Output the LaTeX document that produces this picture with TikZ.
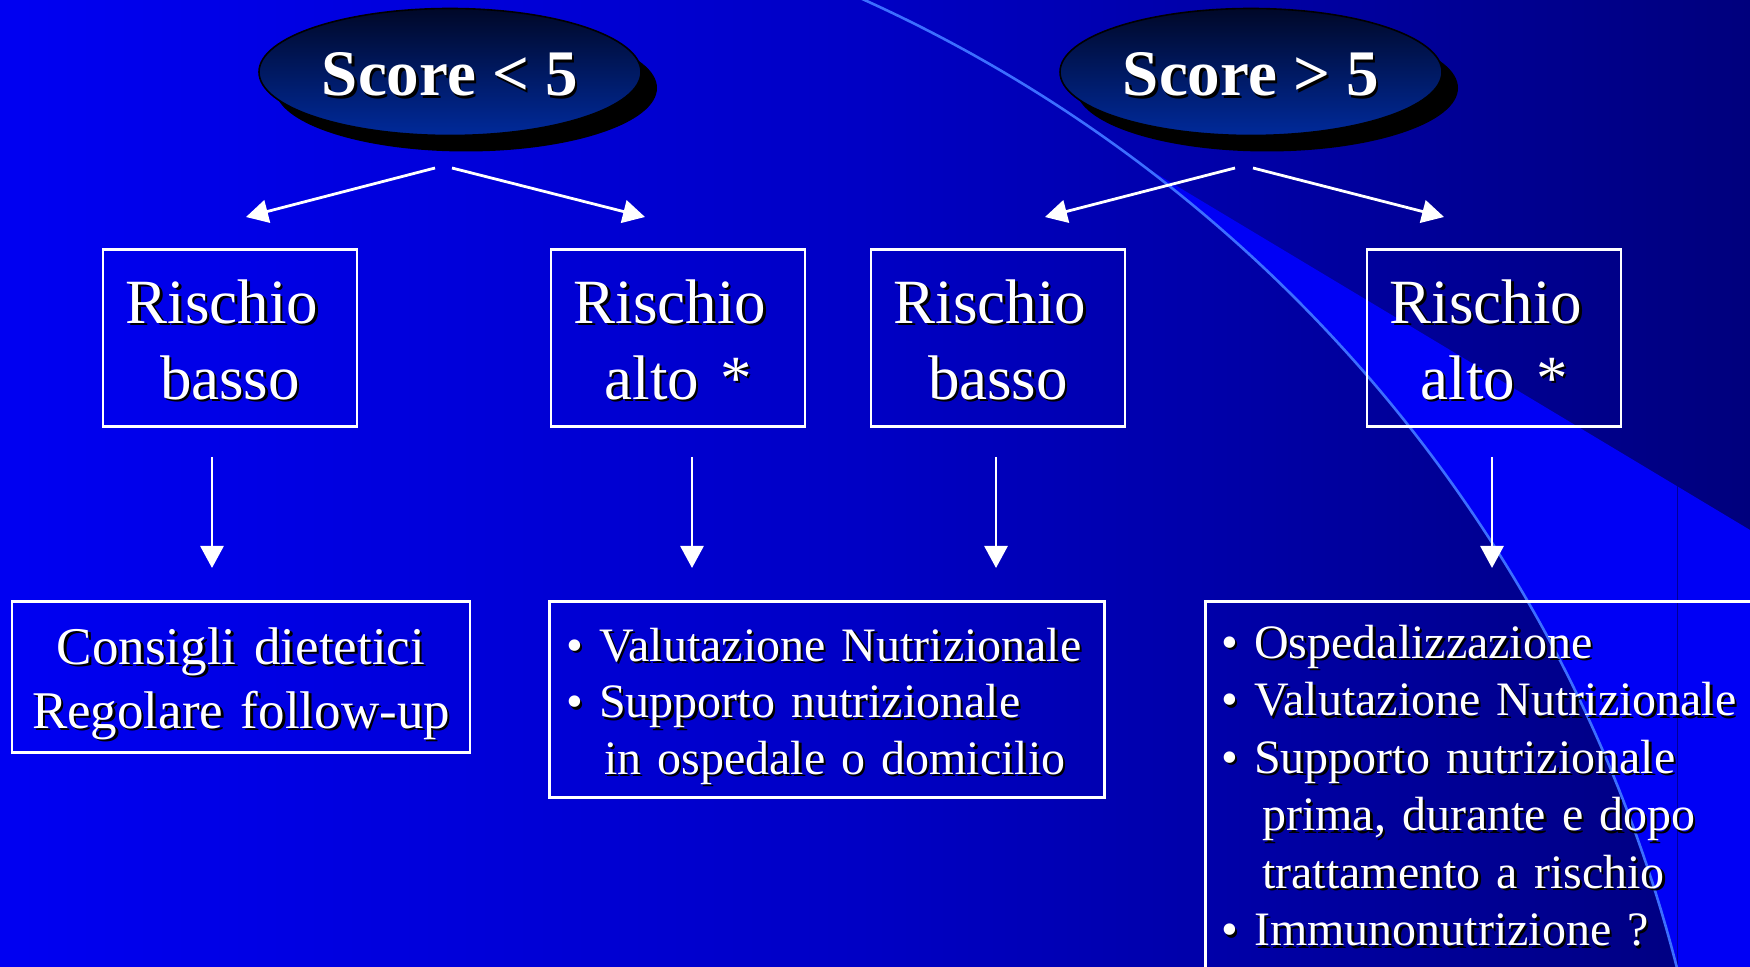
\documentclass[tikz,border=0pt]{standalone}
\usepackage{fontspec}
\setmainfont{Liberation Serif}
\usetikzlibrary{arrows.meta,shapes.geometric,shadows}

\definecolor{bgleft}{RGB}{0,0,242}
\definecolor{bgmid}{RGB}{0,0,196}
\definecolor{bgright}{RGB}{0,0,125}
\definecolor{wedge}{RGB}{0,0,245}
\definecolor{arcline}{RGB}{60,110,255}
\definecolor{seam}{RGB}{0,0,150}
\definecolor{ovaltop}{RGB}{0,8,40}
\definecolor{ovalbot}{RGB}{0,42,155}

% white text with a small black drop shadow
\newcommand\sh[1]{\mbox{\rlap{\kern1.2pt\raisebox{-1.2pt}{\color{black}#1}}#1}}
% invisible struts fixing the first baseline and the bottom margin
\newcommand\topgap[1]{\rule{0pt}{#1}}
\newcommand\botgap[1]{\rule[-#1]{0pt}{#1}}

\begin{document}
\begin{tikzpicture}[x=0.5pt,y=-0.5pt,
  box/.style={draw=white, line width=1.3pt, inner sep=0pt, text=white, anchor=north},
  rbox/.style={box, text width=127pt, align=center, font=\fontsize{31.5pt}{38pt}\selectfont},
  oval/.style={ellipse, draw=black, line width=0.8pt, top color=ovaltop, bottom color=ovalbot,
    minimum width=191pt, minimum height=63.5pt, inner sep=0pt, text=white,
    font=\bfseries\fontsize{32.5pt}{39pt}\selectfont,
    drop shadow={shadow xshift=8pt, shadow yshift=-8pt, fill=black, opacity=1}},
  arr/.style={white, line width=1.4pt, -{Triangle[length=11pt,width=11.5pt]}}]

% page and background
\useasboundingbox (0,0) rectangle (1750,967);
\clip (0,0) rectangle (1750,967);
\shade[left color=bgleft, right color=bgright, middle color=bgmid] (0,0) rectangle (1750,967);
\begin{scope}
  \clip (1000,80) -- (1750,530) -- (1750,967) -- (1000,967) -- cycle;
  \fill[wedge, even odd rule] (0,0) rectangle (1750,967) (264,1329) circle [radius=1458];
\end{scope}
\draw[seam, line width=0.5pt] (1677,486) -- (1677,967);
\draw[arcline, line width=1.3pt] (264,1329) circle [radius=1458];

% score ovals
\node[oval] (e1) at (450,72) {\raisebox{-2pt}[\height][\depth]{\sh{Score < 5}}};
\node[oval] (e2) at (1251,72) {\raisebox{-2pt}[\height][\depth]{\sh{Score > 5}}};

% risk boxes
\node[rbox] (r1) at (230,248) {\topgap{37pt}\sh{Rischio\kern.25em}\\\sh{basso}\botgap{13.5pt}};
\node[rbox] (r2) at (678,248) {\topgap{37pt}\sh{Rischio\kern.25em}\\\sh{alto *}\botgap{13.5pt}};
\node[rbox] (r3) at (998,248) {\topgap{37pt}\sh{Rischio\kern.25em}\\\sh{basso}\botgap{13.5pt}};
\node[rbox] (r4) at (1494,248) {\topgap{37pt}\sh{Rischio\kern.25em}\\\sh{alto *}\botgap{13.5pt}};

% action boxes
\node[box, text width=229pt, align=center, font=\fontsize{26.5pt}{32pt}\selectfont] (b1) at (241,600)
  {\topgap{31.5pt}\sh{Consigli dietetici}\\\sh{Regolare follow-up}\botgap{12pt}};
\node[box, anchor=north west, inner xsep=8.5pt, text width=260.5pt, align=left,
  font=\fontsize{24pt}{28.25pt}\selectfont] (b2) at (548,600)
  {\topgap{30pt}\sh{• Valutazione Nutrizionale}\\
   \sh{• Supporto nutrizionale}\\
   \hphantom{•\ }\kern2.5pt\sh{in ospedale o domicilio}\botgap{11.5pt}};
\node[box, anchor=north west, inner xsep=8pt, text width=284pt, align=left,
  font=\fontsize{24pt}{28.75pt}\selectfont] (b3) at (1204,600)
  {\topgap{28.5pt}\sh{• Ospedalizzazione}\\
   \sh{• Valutazione Nutrizionale}\\
   \sh{• Supporto nutrizionale}\\
   \hphantom{•\ }\kern4pt\sh{prima, durante e dopo}\\
   \hphantom{•\ }\kern4pt\sh{trattamento a rischio}\\
   \sh{• Immunonutrizione ?}\botgap{30pt}};

% arrow end points
\coordinate (e1a) at (435,168);  \coordinate (r1a) at (246,217);
\coordinate (e1b) at (452,168);  \coordinate (r2a) at (645,217);
\coordinate (e2a) at (1235,168); \coordinate (r3a) at (1045,217);
\coordinate (e2b) at (1253,168); \coordinate (r4a) at (1444,217);
\coordinate (r1b) at (212,457);  \coordinate (b1a) at (212,568);
\coordinate (r2b) at (692,457);  \coordinate (b2a) at (692,568);
\coordinate (r3b) at (996,457);  \coordinate (b2b) at (996,568);
\coordinate (r4b) at (1492,457); \coordinate (b3a) at (1492,568);

% connectors
\draw[arr] (e1a) -- (r1a);
\draw[arr] (e1b) -- (r2a);
\draw[arr] (e2a) -- (r3a);
\draw[arr] (e2b) -- (r4a);
\draw[arr] (r1b) -- (b1a);
\draw[arr] (r2b) -- (b2a);
\draw[arr] (r3b) -- (b2b);
\draw[arr] (r4b) -- (b3a);
\end{tikzpicture}
\end{document}
